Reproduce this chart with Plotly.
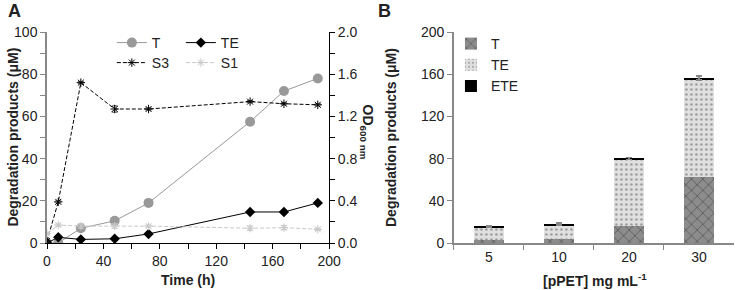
import plotly.graph_objects as go

# Panel A data
time_h = [0, 8, 24, 48, 72, 144, 168, 192]
T_uM = [0, 0, 7, 10.5, 19, 57.5, 72, 78]
TE_uM = [0, 2.7, 1.7, 2, 4.3, 14.7, 14.7, 19]
S3_od = [0.02, 0.39, 1.52, 1.27, 1.27, 1.34, 1.32, 1.31]
S3_err = [0.01, 0.01, 0.01, 0.03, 0.01, 0.01, 0.01, 0.01]
S1_od = [0.09, 0.17, 0.16, 0.16, 0.16, 0.14, 0.145, 0.13]
S1_err = [0.01, 0.01, 0.02, 0.02, 0.01, 0.02, 0.02, 0.01]

# Panel B data
conc = ["5", "10", "20", "30"]
B_T = [2.5, 4, 16, 63]
B_TE = [12.5, 13, 63, 92]
B_ETE = [1, 1, 1, 1.5]
B_err = [0.6, 0.8, 1.0, 2.0]

W, H = 748, 290
ML, MR, MT, MB = 47, 2, 32, 47
PW, PH = W - ML - MR, H - MT - MB

def px(x):
    return (x - ML) / PW

def py(y):
    return (H - MB - y) / PH

FONT = "Liberation Sans, Arial, sans-serif"
TXT = "#222222"
DASH = "4px,2px"

fig = go.Figure()

fig.add_trace(go.Scatter(x=time_h, y=T_uM, name="T", mode="lines+markers",
                         line=dict(color="#999999", width=1),
                         marker=dict(color="#999999", size=10, symbol="circle"),
                         xaxis="x", yaxis="y", legend="legend"))
fig.add_trace(go.Scatter(x=time_h, y=TE_uM, name="TE", mode="lines+markers",
                         line=dict(color="#000000", width=1),
                         marker=dict(color="#000000", size=8, symbol="diamond"),
                         xaxis="x", yaxis="y", legend="legend"))
fig.add_trace(go.Scatter(x=time_h, y=S3_od, name="S3", mode="lines+markers",
                         line=dict(color="#000000", width=1, dash=DASH),
                         marker=dict(color="#000000", size=7, symbol="asterisk-open",
                                     line=dict(color="#000000", width=1)),
                         error_y=dict(type="data", array=S3_err, color="#555555", thickness=1, width=3),
                         xaxis="x", yaxis="y2", legend="legend2"))
fig.add_trace(go.Scatter(x=time_h, y=S1_od, name="S1", mode="lines+markers",
                         line=dict(color="#c8c8c8", width=1, dash=DASH),
                         marker=dict(color="#c8c8c8", size=7, symbol="asterisk-open",
                                     line=dict(color="#c8c8c8", width=1)),
                         error_y=dict(type="data", array=S1_err, color="#c8c8c8", thickness=1, width=3),
                         xaxis="x", yaxis="y2", legend="legend2"))

fig.add_trace(go.Bar(x=conc, y=B_T, name="T", xaxis="x2", yaxis="y3", legend="legend3",
                     marker=dict(color="#8c8c8c", line=dict(width=0),
                                 pattern=dict(shape="x", fgcolor="#2a2a2a", size=8, solidity=0.2)),
                     width=0.43))
fig.add_trace(go.Bar(x=conc, y=B_TE, name="TE", xaxis="x2", yaxis="y3", legend="legend3",
                     marker=dict(color="#e0e0e0", line=dict(width=0),
                                 pattern=dict(shape=".", fgcolor="#555555", size=5, solidity=0.2)),
                     width=0.43))
fig.add_trace(go.Bar(x=conc, y=B_ETE, name="ETE", xaxis="x2", yaxis="y3", legend="legend3",
                     marker=dict(color="#000000", line=dict(width=0)),
                     error_y=dict(type="data", array=B_err, color="#888888", thickness=1.5, width=3),
                     width=0.43))

tickfont = dict(family=FONT, size=14, color=TXT)
dA = [0, px(334)]
dB = [px(461), 1]

fig.update_layout(
    width=W, height=H,
    margin=dict(l=ML, r=MR, t=MT, b=MB),
    paper_bgcolor="white", plot_bgcolor="white",
    barmode="stack",
    font=dict(family=FONT, size=14, color=TXT),
    xaxis=dict(domain=dA, range=[0, 200], tickvals=[0, 40, 80, 120, 160, 200],
               ticks="outside", ticklen=5, tickcolor="#000", showgrid=False, zeroline=False,
               showline=True, linecolor="#000", linewidth=1, tickfont=tickfont,
               minor=dict(tickvals=[20, 60, 100, 140, 180], ticks="outside", ticklen=5, tickcolor="#000"),
               anchor="y"),
    yaxis=dict(domain=[0, 1], range=[0, 100], tickvals=[0, 20, 40, 60, 80, 100],
               ticks="outside", ticklen=5, tickcolor="#888", showgrid=False, zeroline=False,
               showline=True, linecolor="#888", linewidth=1.5, tickfont=tickfont,
               minor=dict(tickvals=[10, 30, 50, 70, 90], ticks="outside", ticklen=5, tickcolor="#888"),
               anchor="x"),
    yaxis2=dict(range=[0, 2], tickvals=[0, 0.4, 0.8, 1.2, 1.6, 2.0], tickformat=".1f",
                overlaying="y", side="right", anchor="x",
                ticks="outside", ticklen=5, tickcolor="#000", showgrid=False, zeroline=False,
                showline=True, linecolor="#000", linewidth=1, tickfont=tickfont,
                minor=dict(tickvals=[0.2, 0.6, 1.0, 1.4, 1.8], ticks="outside", ticklen=5, tickcolor="#000")),
    xaxis2=dict(domain=dB, anchor="y3", type="category", tickson="boundaries",
                ticks="outside", ticklen=5, tickcolor="#888", showgrid=False, zeroline=False,
                showline=True, linecolor="#888", linewidth=1.5, tickfont=tickfont),
    yaxis3=dict(domain=[0, 1], anchor="x2", range=[0, 200], tickvals=[0, 40, 80, 120, 160, 200],
                ticks="outside", ticklen=5, tickcolor="#888", showgrid=False, zeroline=False,
                showline=True, linecolor="#888", linewidth=1.5, tickfont=tickfont),
    legend=dict(orientation="h", x=px(113), y=py(43), xanchor="left", yanchor="middle",
                entrywidth=24, entrywidthmode="pixels", bgcolor="rgba(0,0,0,0)",
                font=dict(family=FONT, size=14, color=TXT), tracegroupgap=0),
    legend2=dict(orientation="h", x=px(113), y=py(63), xanchor="left", yanchor="middle",
                 entrywidth=24, entrywidthmode="pixels", bgcolor="rgba(0,0,0,0)",
                 font=dict(family=FONT, size=14, color=TXT)),
    legend3=dict(orientation="v", x=px(458), y=py(28), xanchor="left", yanchor="top",
                 bgcolor="rgba(0,0,0,0)", itemwidth=30, tracegroupgap=0, traceorder="normal",
                 font=dict(family=FONT, size=14, color=TXT)),
)

ann = []
ann.append(dict(text="<b>A</b>", x=px(5), y=py(11), xref="paper", yref="paper",
                xanchor="left", yanchor="middle", showarrow=False, font=dict(size=18, family=FONT, color=TXT)))
ann.append(dict(text="<b>B</b>", x=px(382), y=py(11), xref="paper", yref="paper",
                xanchor="left", yanchor="middle", showarrow=False, font=dict(size=18, family=FONT, color=TXT)))
ann.append(dict(text="<b>Degradation products (μM)</b>", x=px(12), y=py(137), xref="paper", yref="paper",
                xanchor="center", yanchor="middle", textangle=-90, showarrow=False,
                font=dict(size=14, family=FONT, color=TXT)))
ann.append(dict(text="<b>Degradation products (μM)</b>", x=px(397), y=py(137), xref="paper", yref="paper",
                xanchor="center", yanchor="middle", textangle=-90, showarrow=False,
                font=dict(size=14, family=FONT, color=TXT)))
ann.append(dict(text="<b>OD<sub>600 nm</sub></b>", x=px(373), y=py(132), xref="paper", yref="paper",
                xanchor="center", yanchor="middle", textangle=90, showarrow=False,
                font=dict(size=14, family=FONT, color=TXT)))
ann.append(dict(text="<b>Time (h)</b>", x=px(190), y=py(280), xref="paper", yref="paper",
                xanchor="center", yanchor="middle", showarrow=False,
                font=dict(size=14, family=FONT, color=TXT)))
ann.append(dict(text="<b>[pPET] mg mL<sup>-1</sup></b>", x=px(605), y=py(280), xref="paper", yref="paper",
                xanchor="center", yanchor="middle", showarrow=False,
                font=dict(size=14, family=FONT, color=TXT)))
fig.update_layout(annotations=ann)

fig.write_html("out.html")
